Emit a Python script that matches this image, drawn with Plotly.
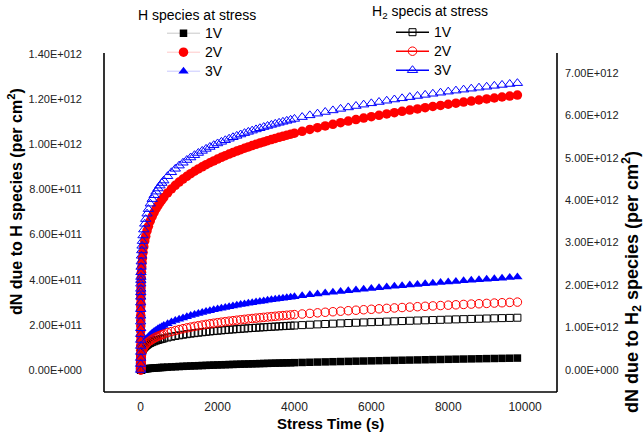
import plotly.graph_objects as go

# ---------------- data ----------------
# stress time in seconds
time_s = [0, 0.02, 0.04, 0.07, 0.1, 0.15, 0.2, 0.3, 0.4, 0.5, 0.65, 0.8,
          1, 1.5, 2, 3, 4, 5, 7, 10, 14, 20, 27, 35, 45, 60, 80, 105, 130, 165,
          200, 250, 300, 350, 400, 450, 500, 550, 600,
          700, 800, 900, 1000, 1100, 1200, 1300, 1400, 1500, 1600, 1700, 1800, 1900, 2000,
          2100, 2200, 2300, 2400, 2500, 2600, 2700, 2800, 2900, 3000,
          3100, 3200, 3300, 3400, 3500, 3600, 3700, 3800, 3900, 4000,
          4200, 4400, 4600, 4800, 5000, 5200, 5400, 5600, 5800, 6000,
          6200, 6400, 6600, 6800, 7000, 7200, 7400, 7600, 7800, 8000,
          8200, 8400, 8600, 8800, 9000, 9200, 9400, 9600, 9800]

UNIT = 1e12  # values below are in units of 1e12 per cm^2

# H species (left axis)
h_1v = [0, 0.00003, 0.00006, 0.00009, 0.00012, 0.00015, 0.00018, 0.00021, 0.00024, 0.00027, 0.00031, 0.00034,
        0.00037, 0.00046, 0.00054, 0.00067, 0.00078, 0.00088, 0.00106, 0.00128, 0.00154, 0.00186, 0.00219, 0.00252,
        0.00288, 0.00337, 0.00394, 0.00456, 0.00512, 0.00582,
        0.00646, 0.00728, 0.00804, 0.00873, 0.00939, 0.01000, 0.01059, 0.01115, 0.01168,
        0.01270, 0.01365, 0.01454, 0.01539, 0.01621, 0.01699, 0.01774, 0.01846, 0.01916, 0.01984,
        0.02050, 0.02114, 0.02177, 0.02238,
        0.02298, 0.02356, 0.02414, 0.02470, 0.02525, 0.02579, 0.02632, 0.02684, 0.02735, 0.02786,
        0.02836, 0.02885, 0.02933, 0.02981, 0.03028, 0.03074, 0.03120, 0.03165, 0.03210, 0.03254,
        0.03341, 0.03426, 0.03509, 0.03591, 0.03671, 0.03750, 0.03827, 0.03903, 0.03977, 0.04051,
        0.04123, 0.04195, 0.04265, 0.04334, 0.04403, 0.04470, 0.04537, 0.04602, 0.04667, 0.04732,
        0.04795, 0.04858, 0.04920, 0.04982, 0.05042, 0.05102, 0.05162, 0.05221, 0.05280]
h_2v = [0, 0.0216, 0.0432, 0.0647, 0.0863, 0.1079, 0.1289, 0.1500, 0.1737, 0.1947, 0.2184, 0.2421,
        0.2631, 0.2815, 0.2954, 0.3160, 0.3316, 0.3441, 0.3640, 0.3863, 0.4086, 0.4336, 0.4558, 0.4760,
        0.4963, 0.5207, 0.5463, 0.5716, 0.5924, 0.6164,
        0.6366, 0.6607, 0.6811, 0.6988, 0.7146, 0.7287, 0.7417, 0.7535, 0.7646,
        0.7844, 0.8021, 0.8180, 0.8325, 0.8458, 0.8582, 0.8697, 0.8805, 0.8907, 0.9003,
        0.9095, 0.9182, 0.9265, 0.9345,
        0.9421, 0.9494, 0.9565, 0.9633, 0.9699, 0.9762, 0.9824, 0.9884, 0.9942, 0.9998,
        1.0053, 1.0107, 1.0158, 1.0209, 1.0258, 1.0307, 1.0354, 1.0400, 1.0445, 1.0489,
        1.0575, 1.0657, 1.0737, 1.0813, 1.0887, 1.0958, 1.1028, 1.1095, 1.1160, 1.1223,
        1.1284, 1.1344, 1.1403, 1.1459, 1.1515, 1.1569, 1.1622, 1.1674, 1.1724, 1.1774,
        1.1823, 1.1870, 1.1917, 1.1963, 1.2008, 1.2051, 1.2095, 1.2137, 1.2179]
h_3v = [0, 0.0030, 0.0059, 0.0089, 0.0119, 0.0148, 0.0177, 0.0206, 0.0239, 0.0268, 0.0300, 0.0333,
        0.0362, 0.0403, 0.0435, 0.0484, 0.0522, 0.0554, 0.0606, 0.0665, 0.0727, 0.0799, 0.0865, 0.0927,
        0.0991, 0.1069, 0.1153, 0.1239, 0.1311, 0.1397,
        0.1470, 0.1559, 0.1636, 0.1704, 0.1766, 0.1822, 0.1873, 0.1921, 0.1966,
        0.2047, 0.2121, 0.2188, 0.2250, 0.2307, 0.2361, 0.2412, 0.2459, 0.2505, 0.2548,
        0.2589, 0.2628, 0.2666, 0.2703,
        0.2738, 0.2772, 0.2804, 0.2836, 0.2867, 0.2897, 0.2926, 0.2954, 0.2982, 0.3009,
        0.3035, 0.3060, 0.3086, 0.3110, 0.3134, 0.3157, 0.3180, 0.3203, 0.3225, 0.3246,
        0.3289, 0.3329, 0.3369, 0.3407, 0.3444, 0.3480, 0.3515, 0.3549, 0.3582, 0.3614,
        0.3646, 0.3676, 0.3706, 0.3736, 0.3764, 0.3793, 0.3820, 0.3847, 0.3874, 0.3900,
        0.3925, 0.3950, 0.3975, 0.3999, 0.4023, 0.4047, 0.4070, 0.4093, 0.4115]

# H2 species (right axis)
h2_1v = [0, 0.0193, 0.0386, 0.0579, 0.0772, 0.0966, 0.1154, 0.1342, 0.1554, 0.1743, 0.1955, 0.2167,
         0.2355, 0.2533, 0.2667, 0.2869, 0.3022, 0.3146, 0.3342, 0.3564, 0.3786, 0.4037, 0.4261, 0.4465,
         0.4672, 0.4920, 0.5182, 0.5441, 0.5655, 0.5902,
         0.6110, 0.6360, 0.6572, 0.6757, 0.6922, 0.7070, 0.7206, 0.7330, 0.7446,
         0.7655, 0.7841, 0.8010, 0.8163, 0.8304, 0.8435, 0.8558, 0.8672, 0.8781, 0.8884,
         0.8981, 0.9074, 0.9163, 0.9247,
         0.9329, 0.9407, 0.9483, 0.9556, 0.9627, 0.9695, 0.9761, 0.9825, 0.9887, 0.9948,
         1.0007, 1.0064, 1.0120, 1.0175, 1.0228, 1.0280, 1.0331, 1.0380, 1.0429, 1.0477,
         1.0569, 1.0658, 1.0744, 1.0827, 1.0906, 1.0984, 1.1058, 1.1131, 1.1201, 1.1270,
         1.1336, 1.1402, 1.1465, 1.1527, 1.1587, 1.1646, 1.1703, 1.1760, 1.1815, 1.1869,
         1.1922, 1.1973, 1.2024, 1.2074, 1.2123, 1.2171, 1.2218, 1.2265, 1.2310]
h2_2v = [0, 0.0162, 0.0324, 0.0487, 0.0649, 0.0811, 0.0969, 0.1127, 0.1305, 0.1464, 0.1642, 0.1820,
         0.1978, 0.2169, 0.2315, 0.2539, 0.2711, 0.2852, 0.3079, 0.3339, 0.3604, 0.3909, 0.4185, 0.4439,
         0.4700, 0.5018, 0.5357, 0.5699, 0.5983, 0.6316,
         0.6598, 0.6941, 0.7235, 0.7493, 0.7724, 0.7934, 0.8127, 0.8305, 0.8470,
         0.8773, 0.9043, 0.9289, 0.9514, 0.9722, 0.9917, 1.0099, 1.0270, 1.0433, 1.0587,
         1.0734, 1.0874, 1.1009, 1.1138,
         1.1262, 1.1382, 1.1498, 1.1610, 1.1718, 1.1823, 1.1925, 1.2024, 1.2120, 1.2214,
         1.2306, 1.2395, 1.2482, 1.2567, 1.2650, 1.2731, 1.2811, 1.2889, 1.2965, 1.3040,
         1.3185, 1.3325, 1.3461, 1.3593, 1.3719, 1.3842, 1.3961, 1.4077, 1.4190, 1.4299,
         1.4407, 1.4511, 1.4613, 1.4712, 1.4809, 1.4905, 1.4998, 1.5089, 1.5179, 1.5266,
         1.5352, 1.5437, 1.5519, 1.5600, 1.5681, 1.5759, 1.5837, 1.5912, 1.5987]
h2_3v = [0, 0.141, 0.283, 0.424, 0.565, 0.707, 0.845, 0.982, 1.137, 1.276, 1.432, 1.585,
         1.723, 1.829, 1.910, 2.030, 2.117, 2.190, 2.300, 2.427, 2.552, 2.689, 2.814, 2.924,
         3.035, 3.167, 3.306, 3.442, 3.553, 3.680,
         3.788, 3.916, 4.023, 4.116, 4.199, 4.273, 4.341, 4.402, 4.460,
         4.563, 4.655, 4.737, 4.812, 4.880, 4.944, 5.003, 5.058, 5.110, 5.159,
         5.206, 5.251, 5.293, 5.334,
         5.372, 5.409, 5.445, 5.480, 5.513, 5.545, 5.577, 5.607, 5.636, 5.665,
         5.692, 5.720, 5.746, 5.771, 5.796, 5.820, 5.844, 5.867, 5.890, 5.912,
         5.955, 5.996, 6.036, 6.075, 6.112, 6.148, 6.182, 6.216, 6.248, 6.279,
         6.310, 6.340, 6.369, 6.397, 6.425, 6.452, 6.478, 6.504, 6.529, 6.554,
         6.578, 6.601, 6.624, 6.647, 6.669, 6.691, 6.712, 6.734, 6.754]

voltages = ["1V", "2V", "3V"]
x_ticks = [0, 2000, 4000, 6000, 8000, 10000]
x_labels = ["0", "2000", "4000", "6000", "8000", "10000"]
y1_ticks = [0, 0.2, 0.4, 0.6, 0.8, 1.0, 1.2, 1.4]
y1_labels = ["0.00E+000", "2.00E+011", "4.00E+011", "6.00E+011",
             "8.00E+011", "1.00E+012", "1.20E+012", "1.40E+012"]
y2_ticks = [0, 1, 2, 3, 4, 5, 6, 7]
y2_labels = ["0.00E+000", "1.00E+012", "2.00E+012", "3.00E+012",
             "4.00E+012", "5.00E+012", "6.00E+012", "7.00E+012"]

for s in (h_1v, h_2v, h_3v, h2_1v, h2_2v, h2_3v):
    if len(s) != len(time_s):
        raise ValueError("series length %d != %d" % (len(s), len(time_s)))

# ---------------- styling ----------------
FONT = "Liberation Sans, Arial, sans-serif"
W, H = 644, 435
# plot area spans the full height above the x axis so that the legends sit
# inside it; the visible frame starts at AXIS_TOP
L, R, T, B = 104, 557, 0, 392
AXIS_TOP = 53


def px(xp):
    return (xp - L) / (R - L)


def py(yp):
    return (B - yp) / (B - T)


h_series = [h_1v, h_2v, h_3v]
h2_series = [h2_1v, h2_2v, h2_3v]
colors = ["#000000", "#ff0000", "#0000ff"]
faint = ["rgba(0,0,0,0.22)", "rgba(255,0,0,0.22)", "rgba(0,0,255,0.22)"]
filled_sym = ["square", "circle", "triangle-up"]
open_sym = ["square-open", "circle-open", "triangle-up-open"]
filled_size = [7.5, 9.5, 9]
open_size = [7, 8.5, 9]

fig = go.Figure()

for vals, c, sym, sz in zip(h_series, colors, filled_sym, filled_size):
    fig.add_trace(go.Scatter(
        x=time_s, y=[v * UNIT for v in vals], yaxis="y", mode="markers",
        showlegend=False, hoverinfo="skip",
        marker=dict(symbol=sym, size=sz, color=c, line=dict(width=0))))

for vals, c, sym, sz in zip(h2_series, colors, open_sym, open_size):
    fig.add_trace(go.Scatter(
        x=time_s, y=[v * UNIT for v in vals], yaxis="y2", mode="markers",
        showlegend=False, hoverinfo="skip",
        marker=dict(symbol=sym, size=sz, color=c, line=dict(width=1, color=c))))


def lname(s):
    return '<span style="font-size:14px">%s</span>' % s


# legend entries
for name, c, fc, sym, sz in zip(voltages, colors, faint, filled_sym, filled_size):
    fig.add_trace(go.Scatter(
        x=[None], y=[None], yaxis="y", mode="lines+markers", name=lname(name), legend="legend",
        line=dict(color=fc, width=1), marker=dict(symbol=sym, size=sz, color=c)))
for name, c, sym, sz in zip(voltages, colors, open_sym, open_size):
    fig.add_trace(go.Scatter(
        x=[None], y=[None], yaxis="y2", mode="lines+markers", name=lname(name), legend="legend2",
        line=dict(color=c, width=1.5), marker=dict(symbol=sym, size=sz, color=c, line=dict(width=1, color=c))))

axis_common = dict(showgrid=False, zeroline=False, showline=False, ticks="",
                   tickfont=dict(family=FONT, size=11, color="#222222"))

fig.update_layout(
    width=W, height=H, autosize=False,
    margin=dict(l=L, r=W - R, t=T, b=H - B, pad=0),
    paper_bgcolor="white", plot_bgcolor="white",
    font=dict(family=FONT, color="#000000"),
    showlegend=True,
    xaxis=dict(range=[-955, 10830], tickmode="array", tickvals=x_ticks, ticktext=x_labels,
               ticklabelstandoff=6, **{**axis_common, "tickfont": dict(family=FONT, size=12, color="#222222")}),
    yaxis=dict(range=[-0.0975 * UNIT, 1.6393 * UNIT], tickmode="array",
               tickvals=[v * UNIT for v in y1_ticks], ticktext=y1_labels,
               ticklabelstandoff=21, **axis_common),
    yaxis2=dict(range=[-0.518 * UNIT, 8.712 * UNIT], tickmode="array",
                tickvals=[v * UNIT for v in y2_ticks], ticktext=y2_labels,
                overlaying="y", side="right", ticklabelstandoff=7, **axis_common),
    legend=dict(x=px(162), y=py(18.7), xanchor="left", yanchor="top", bgcolor="rgba(0,0,0,0)",
                font=dict(family=FONT, size=12, color="#000000"), itemwidth=33,
                tracegroupgap=0, borderwidth=0),
    legend2=dict(x=px(391), y=py(17.7), xanchor="left", yanchor="top", bgcolor="rgba(0,0,0,0)",
                 font=dict(family=FONT, size=12, color="#000000"), itemwidth=33,
                 tracegroupgap=0, borderwidth=0),
)

# frame: left, bottom and right axis lines
frame = [
    dict(x0=0, x1=0, y0=0, y1=py(AXIS_TOP)),
    dict(x0=0, x1=1, y0=0, y1=0),
    dict(x0=1, x1=1, y0=0, y1=py(AXIS_TOP)),
]
fig.update_layout(shapes=[dict(type="line", xref="paper", yref="paper",
                               line=dict(color="#000000", width=1.6), **f) for f in frame])

ann = [
    dict(text="H species at stress", x=px(136), y=py(15), xanchor="left", yanchor="middle",
         font=dict(family=FONT, size=14, color="#000000")),
    dict(text="H<sub>2</sub> specis at stress", x=px(370), y=py(12), xanchor="left", yanchor="middle",
         font=dict(family=FONT, size=14, color="#000000")),
    dict(text="<b>Stress Time (s)</b>", x=px(330), y=py(423), xanchor="center", yanchor="middle",
         font=dict(family=FONT, size=15, color="#000000")),
    dict(text="<b>dN due to H species (per cm<sup>2</sup>)</b>", x=px(15), y=py(202), textangle=-90,
         xanchor="center", yanchor="middle", font=dict(family=FONT, size=16, color="#000000")),
    dict(text="<b>dN due to H<sub>2</sub> species (per cm<sup>2</sup>)</b>", x=px(631), y=py(282),
         textangle=-90, xanchor="center", yanchor="middle",
         font=dict(family=FONT, size=18, color="#000000")),
]
for a in ann:
    a.update(xref="paper", yref="paper", showarrow=False)
fig.update_layout(annotations=ann)

fig.write_html("out.html", config={"displayModeBar": False},
               post_script="document.body.style.margin='0px';")
